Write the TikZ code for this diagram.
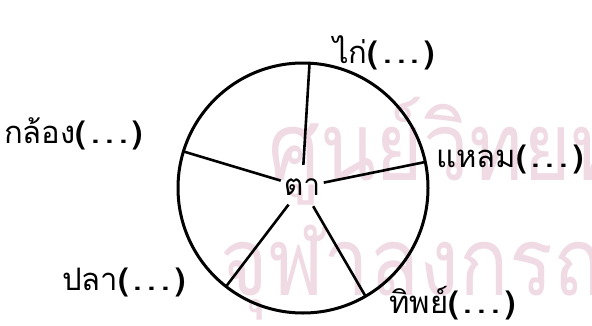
\documentclass[tikz,border=0pt]{standalone}
\usepackage{fontspec}
\newfontfamily\thaifont[Script=Thai]{Loma}
\newfontfamily\stampfont[Script=Thai,FakeStretch=0.86]{Loma}
\definecolor{wmpink}{RGB}{240,218,228}
\newcommand\blank{\textbf{(\hspace{0.17em}.\hspace{0.17em}.\hspace{0.17em}.\hspace{0.17em})}}

\begin{document}
\begin{tikzpicture}[x=1pt,y=1pt,
  lbl/.style={font=\thaifont\fontsize{31}{31}\selectfont,inner sep=0pt,anchor=base west},
  stamp/.style={text=wmpink,font=\stampfont\fontsize{95}{95}\selectfont,inner sep=0pt,anchor=base west},
  rim/.style={line width=3pt},
  spoke/.style={line width=2.6pt}]
\useasboundingbox (0,0) rectangle (592,325);
\begin{scope}
\clip (0,0) rectangle (592,325);
\node[stamp] (wmtop) at (268,145) {ศูนย์วิทยทรัพยากร};
\node[stamp] (wmbot) at (220,30) {จุฬาลงกรณ์มหาวิทยาลัย};
\end{scope}
\coordinate (C) at (303,137);
\draw[rim] (C) circle (125);
\node[font=\thaifont\fontsize{30}{30}\selectfont,circle,minimum size=44pt,inner sep=0pt] (ta) at (302,138) {ตา};
\foreach \nm/\ang in {kai/87,klong/163,laem/12,pla/232,thip/300}{\coordinate (\nm) at ([shift={(\ang:125)}]C);}
\foreach \nm in {kai,klong,laem,pla,thip}{\draw[spoke] (ta)--(\nm);}
\node[lbl] (kaiL) at (333,262) {ไก่\blank};
\node[lbl] (klongL) at (4,182) {กล้อง\blank};
\node[lbl] (laemL) at (436,158) {แหลม\blank};
\node[lbl] (plaL) at (62,35) {ปลา\blank};
\node[lbl] (thipL) at (389,12) {ทิพย์\blank};
\end{tikzpicture}
\end{document}
